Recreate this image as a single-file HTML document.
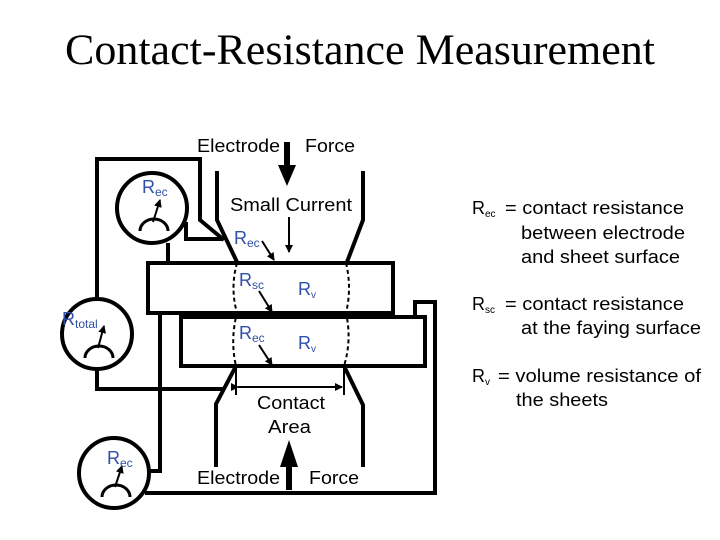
<!DOCTYPE html>
<html><head><style>
html,body{margin:0;padding:0;background:#fff;}
svg{display:block;}
text{font-family:"Liberation Sans",sans-serif;}
</style></head><body>
<svg width="720" height="540" viewBox="0 0 720 540" xmlns="http://www.w3.org/2000/svg">
<defs>
<marker id="a" markerWidth="8" markerHeight="8" refX="7" refY="4" orient="auto" markerUnits="userSpaceOnUse"><path d="M0,0 L8,4 L0,8 Z" fill="#000"/></marker>
</defs>
<text x="65" y="64" textLength="590" lengthAdjust="spacingAndGlyphs" style="font-family:'Liberation Serif',serif" font-size="43">Contact-Resistance Measurement</text>
<g fill="none" stroke="#000" stroke-width="4" stroke-linejoin="miter">
<rect x="148" y="263" width="245" height="50"/>
<rect x="181" y="317" width="244" height="49"/>
<polyline points="217,171 217,220 237,262"/>
<polyline points="363,171 363,220 347,262"/>
<polyline points="236,366 216,404 216,467"/>
<polyline points="344,366 363,405 363,467"/>
<polyline points="97,299 97,159 200,159 200,220 224,240"/>
<polyline points="186,222 186,239 222,239"/>
<line x1="168" y1="243" x2="168" y2="263"/>
<polyline points="97,369 97,389 223,389"/>
<polyline points="160,313 160,471 149,471"/>
<polyline points="415,317 415,302 435,302 435,493 145,493"/>
<circle cx="152" cy="208" r="35"/>
<circle cx="97" cy="334" r="35"/>
<circle cx="114" cy="473" r="35"/>
</g>
<g fill="none" stroke="#000" stroke-width="3">
<path d="M140,231 A14,12 0 0 1 168,231"/>
<path d="M85,358 A14,12 0 0 1 113,358"/>
<path d="M102,497 A14,12 0 0 1 130,497"/>
</g>
<g stroke="#000" stroke-width="2" fill="none">
<line x1="153" y1="222" x2="160" y2="200" marker-end="url(#a)"/>
<line x1="98" y1="348" x2="104" y2="326" marker-end="url(#a)"/>
<line x1="115" y1="487" x2="122" y2="466" marker-end="url(#a)"/>
<line x1="289" y1="217" x2="289" y2="252" marker-end="url(#a)"/>
<line x1="262" y1="241" x2="274" y2="260" marker-end="url(#a)"/>
<line x1="259" y1="291" x2="272" y2="312" marker-end="url(#a)"/>
<line x1="259" y1="345" x2="272" y2="365" marker-end="url(#a)"/>
<line x1="238" y1="387" x2="342" y2="387" marker-start="url(#a)" marker-end="url(#a)"/>
<line x1="236" y1="366" x2="236" y2="395"/>
<line x1="344" y1="366" x2="344" y2="395"/>
<path d="M237,263 Q230,288 237,313 Q230,340 236,366" stroke-dasharray="4,3"/>
<path d="M346,263 Q352,288 346,313 Q352,340 344,366" stroke-dasharray="4,3"/>
</g>
<path d="M284,142 L290,142 L290,165 L296,165 L287,186 L278,165 L284,165 Z" fill="#000"/>
<path d="M286,490 L292,490 L292,467 L298,467 L289,440 L280,467 L286,467 Z" fill="#000"/>
<g font-size="18" fill="#000">
<text x="197" y="152" textLength="83" lengthAdjust="spacingAndGlyphs">Electrode</text>
<text x="305" y="152" textLength="50" lengthAdjust="spacingAndGlyphs">Force</text>
<text x="230" y="211" textLength="122" lengthAdjust="spacingAndGlyphs">Small Current</text>
<text x="257" y="409" textLength="68" lengthAdjust="spacingAndGlyphs">Contact</text>
<text x="268" y="433" textLength="43" lengthAdjust="spacingAndGlyphs">Area</text>
<text x="197" y="484" textLength="83" lengthAdjust="spacingAndGlyphs">Electrode</text>
<text x="309" y="484" textLength="50" lengthAdjust="spacingAndGlyphs">Force</text>
</g>
<g font-size="18" fill="#2f4fa8">
<text x="142" y="193">R<tspan font-size="12" dy="3">ec</tspan></text>
<text x="234" y="244">R<tspan font-size="12" dy="3">ec</tspan></text>
<text x="239" y="286">R<tspan font-size="12" dy="3">sc</tspan></text>
<text x="298" y="295">R<tspan font-size="10" dy="3">v</tspan></text>
<text x="239" y="339">R<tspan font-size="12" dy="3">ec</tspan></text>
<text x="298" y="349">R<tspan font-size="10" dy="3">v</tspan></text>
<text x="62" y="325">R<tspan font-size="12" dy="3">total</tspan></text>
<text x="107" y="464">R<tspan font-size="12" dy="3">ec</tspan></text>
</g>
<g font-size="18" fill="#000">
<text x="472" y="214">R<tspan font-size="10" dy="3">ec</tspan></text>
<text x="505" y="214" textLength="179" lengthAdjust="spacingAndGlyphs">= contact resistance</text>
<text x="521" y="239" textLength="164" lengthAdjust="spacingAndGlyphs">between electrode</text>
<text x="521" y="263" textLength="159" lengthAdjust="spacingAndGlyphs">and sheet surface</text>
<text x="472" y="310">R<tspan font-size="10" dy="3">sc</tspan></text>
<text x="505" y="310" textLength="179" lengthAdjust="spacingAndGlyphs">= contact resistance</text>
<text x="521" y="334" textLength="180" lengthAdjust="spacingAndGlyphs">at the faying surface</text>
<text x="472" y="382">R<tspan font-size="10" dy="3">v</tspan></text>
<text x="498" y="382" textLength="203" lengthAdjust="spacingAndGlyphs">= volume resistance of</text>
<text x="516" y="406" textLength="92" lengthAdjust="spacingAndGlyphs">the sheets</text>
</g>
</svg>
</body></html>
